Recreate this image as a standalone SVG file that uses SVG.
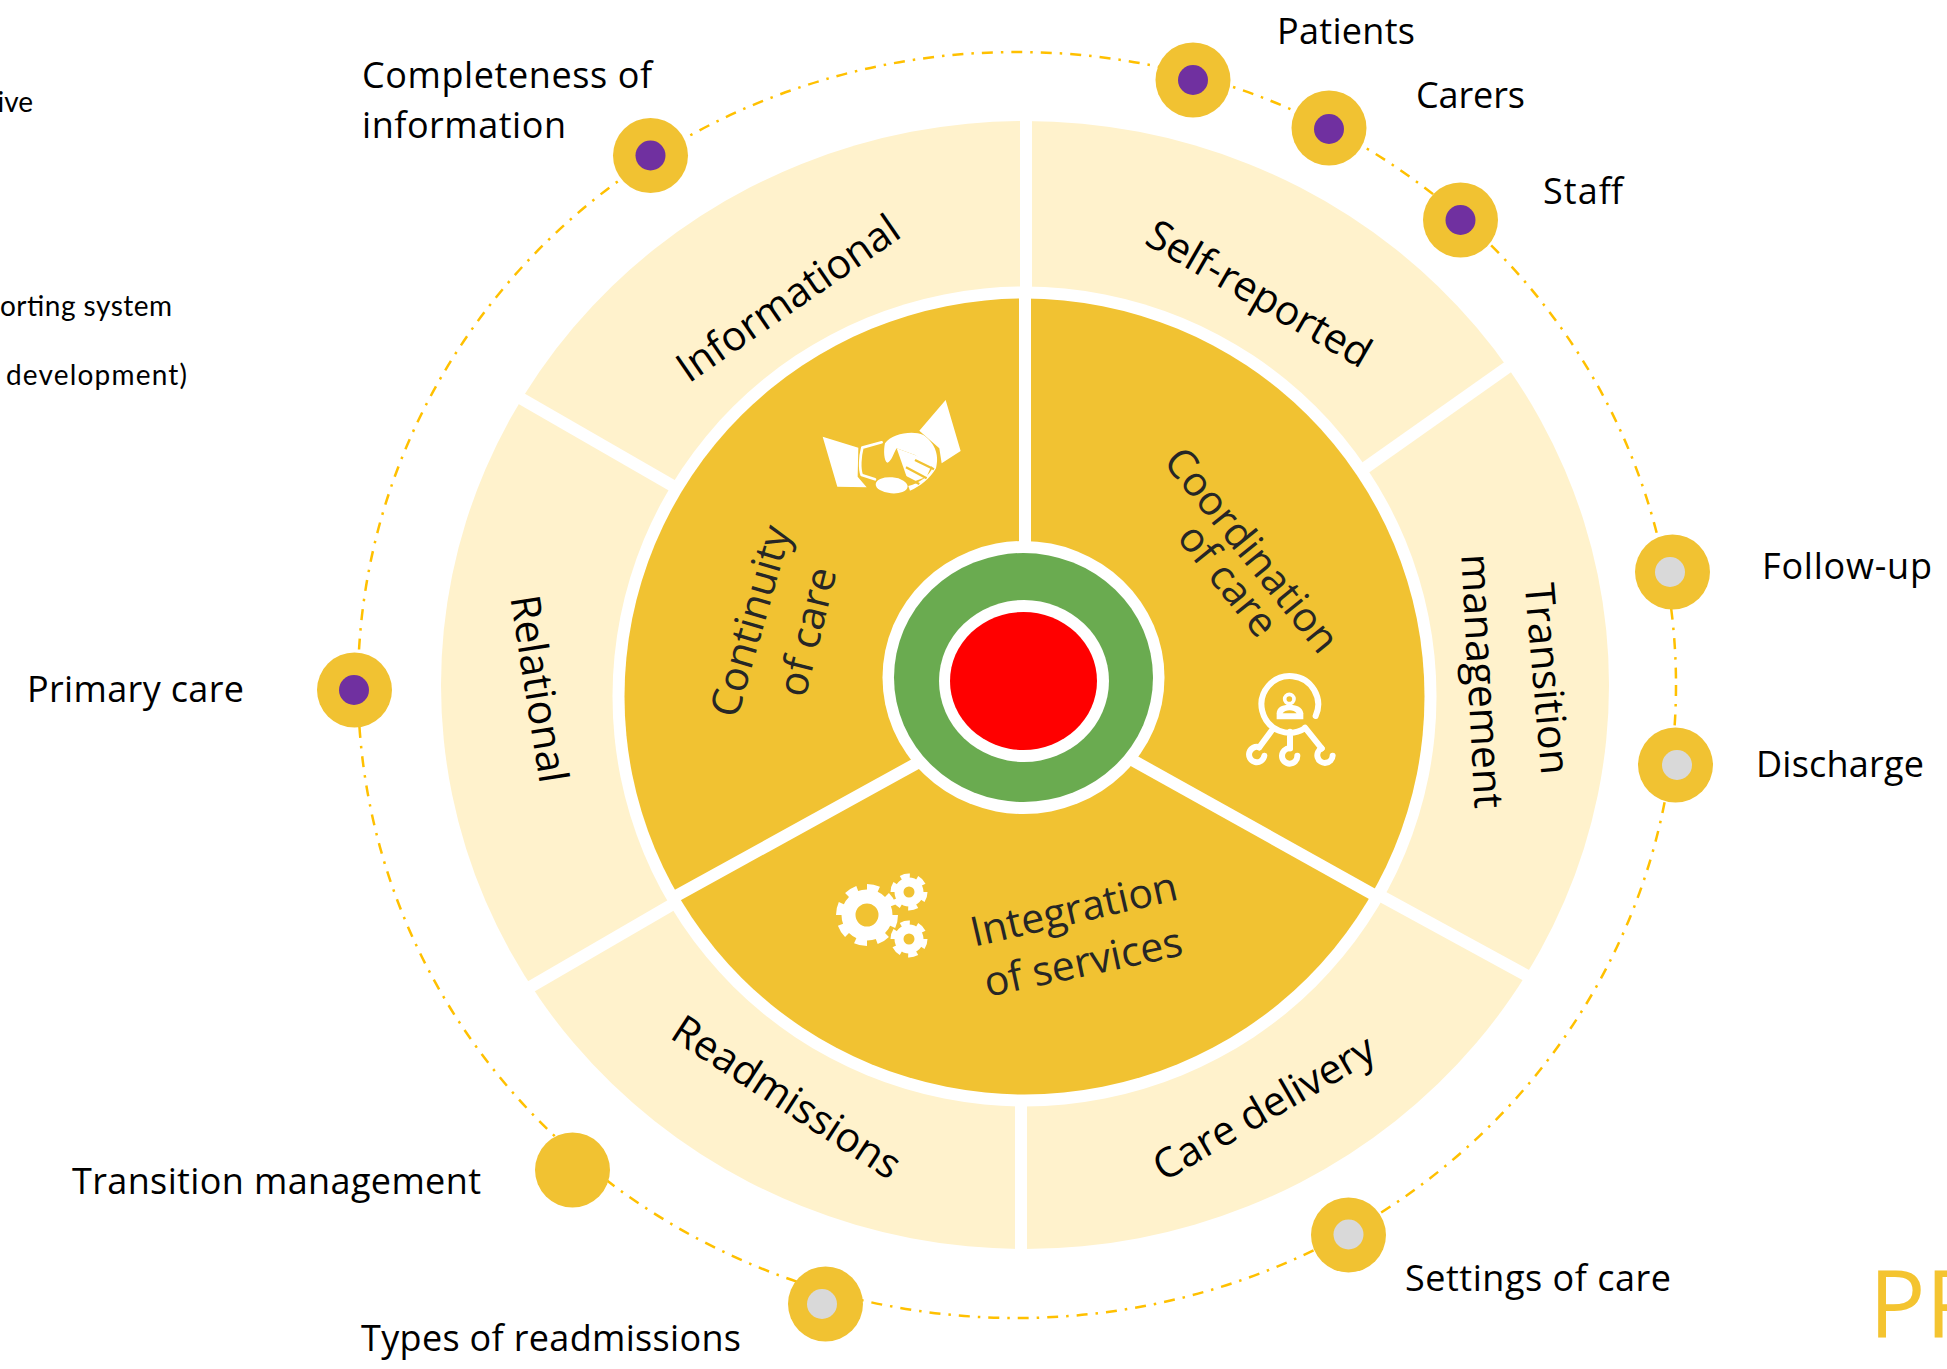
<svg xmlns="http://www.w3.org/2000/svg" width="1947" height="1369" viewBox="0 0 1947 1369">
<style>
text{font-family:"Open Sans","Noto Sans",sans-serif;fill:#000}
.lb{font-size:36px}
.seg{font-size:41px;text-anchor:middle}
.core{font-size:41px;text-anchor:middle;fill:#262626}
.cut{font-family:Lato,"Open Sans",sans-serif;font-size:28px;text-anchor:end}
.gold{fill:#F1C232}
.pur{fill:#7030A0}
.gry{fill:#D9D9D9}
.gap{stroke:#fff;fill:none;stroke-width:12}
.ic{stroke:#fff;fill:none;stroke-linecap:round;stroke-linejoin:round}
</style>
<rect width="1947" height="1369" fill="#fff"/>
<g id="wheel">
<ellipse cx="1025" cy="685" rx="584" ry="564" fill="#FFF2CC"/>
<line class="gap" x1="1026" y1="110" x2="1026" y2="300"/>
<line class="gap" x1="1021" y1="1260" x2="1021" y2="1090"/>
<line class="gap" x1="515" y1="395" x2="680" y2="490"/>
<line class="gap" x1="525" y1="990" x2="680" y2="900"/>
<line class="gap" x1="1515" y1="362" x2="1355" y2="475"/>
<line class="gap" x1="1535" y1="980" x2="1370" y2="890"/>
<ellipse cx="1024.5" cy="696.5" rx="412" ry="410" fill="#fff"/>
<ellipse cx="1024.5" cy="696.5" rx="400" ry="398" class="gold"/>
<line class="gap" x1="1025" y1="290" x2="1025" y2="560"/>
<line class="gap" x1="676" y1="896" x2="930" y2="756"/>
<line class="gap" x1="1376" y1="896" x2="1125" y2="756"/>
<ellipse cx="1023.5" cy="677.5" rx="141" ry="136.5" fill="#fff"/>
<ellipse cx="1023.5" cy="677.5" rx="129.5" ry="124.5" fill="#6AAB50"/>
<ellipse cx="1024" cy="681" rx="85" ry="81" fill="#fff"/>
<ellipse cx="1023.5" cy="681" rx="73.5" ry="69" fill="#F00"/>
</g>
<g id="connectors">
<ellipse cx="1017" cy="685" rx="659" ry="633" fill="none" stroke="#FFC000" stroke-width="2.5" stroke-dasharray="11 8 2.5 8"/>
</g>
<g id="seg-informational"><text class="seg" transform="translate(796 310) rotate(-34.5)">Informational</text></g>
<g id="seg-self-reported"><text class="seg" transform="translate(1252 306) rotate(30)">Self-reported</text></g>
<g id="seg-transition"><text class="seg" transform="translate(1533 680) rotate(85)">Transition</text><text class="seg" transform="translate(1468 682) rotate(87)">management</text></g>
<g id="seg-care-delivery"><text class="seg" transform="translate(1271 1120) rotate(-30)">Care delivery</text></g>
<g id="seg-readmissions"><text class="seg" transform="translate(779 1109) rotate(33)">Readmissions</text></g>
<g id="seg-relational"><text class="seg" transform="translate(525 691) rotate(81)">Relational</text></g>
<g id="core-continuity"><text class="core" transform="translate(764 625) rotate(-74)">Continuity</text><text class="core" transform="translate(821 635) rotate(-76)">of care</text></g>
<g id="core-coordination"><text class="core" transform="translate(1241 559) rotate(51)">Coordination</text><text class="core" transform="translate(1217 589) rotate(51)">of care</text></g>
<g id="core-integration"><text class="core" transform="translate(1077 923) rotate(-13)">Integration</text><text class="core" transform="translate(1086 976) rotate(-12)">of services</text></g>
<g id="icon-handshake" transform="translate(780 380) scale(.3333)">
<path fill="#fff" d="M128 170L235 203L233 290L260 322L172 320ZM497 60L542 213L485 250L478 205L418 152Z"/>
<path fill="#fff" d="M315 190C335 160 400 150 430 165C460 185 480 220 468 265C450 295 420 320 390 332L385 318C420 310 450 285 458 262L405 225L350 205C340 220 335 245 322 248C312 245 310 210 315 190Z"/>
<path fill="#fff" d="M350 205L405 225L458 250L440 290L400 305L380 290Z"/>
<path class="ic" stroke-width="8" d="M305 187L247 203C240 230 238 265 245 285L285 298"/>
<ellipse cx="335" cy="316" rx="48" ry="24" fill="#fff" transform="rotate(5 335 316)"/>
<path stroke="#F1C232" stroke-width="7" fill="none" d="M405 240L462 268M378 262L440 295M365 285L418 312"/>
</g>
<g id="icon-network" transform="translate(1220 660) scale(.3333)">
<path class="ic" stroke-width="18" d="M287 168A85 85 0 1 0 255 205M160 205L118 262M210 215V265M255 203L305 265"/>
<path class="ic" stroke-width="18" d="M133 287A23 23 0 1 1 118 262M232 287A23 23 0 1 1 210 265M338 287A23 23 0 1 1 305 265"/>
<circle cx="208" cy="117" r="14" class="ic" stroke-width="11"/>
<path fill="#fff" d="M170 178V160C170 140 190 134 208 134C226 134 248 140 250 160V178Z"/>
<path class="gold" d="M188 160C195 148 222 148 230 160Z"/>
</g>
<g id="icon-gears">
<circle cx="867" cy="915" r="26.5" fill="none" stroke="#fff" stroke-width="9" pathLength="16" stroke-dasharray="1.1 .9"/>
<circle cx="867" cy="915" r="18.5" fill="none" stroke="#fff" stroke-width="14"/>
<circle cx="909" cy="892" r="15" fill="none" stroke="#fff" stroke-width="7" pathLength="12" stroke-dasharray="1.1 .9"/>
<circle cx="909" cy="892" r="10" fill="none" stroke="#fff" stroke-width="9"/>
<circle cx="909" cy="939" r="15" fill="none" stroke="#fff" stroke-width="7" pathLength="12" stroke-dasharray="1.1 .9"/>
<circle cx="909" cy="939" r="10" fill="none" stroke="#fff" stroke-width="9"/>
</g>
<g id="node-completeness"><circle cx="650.5" cy="155.5" r="37.5" class="gold"/><circle cx="650.5" cy="155.5" r="15" class="pur"/><text class="lb" x="362" y="88" textLength="290">Completeness of</text><text class="lb" x="362" y="138" textLength="204">information</text></g>
<g id="node-patients"><circle cx="1193" cy="80" r="37.5" class="gold"/><circle cx="1193" cy="80" r="15" class="pur"/><text class="lb" x="1277" y="44" textLength="138">Patients</text></g>
<g id="node-carers"><circle cx="1329" cy="128" r="37.5" class="gold"/><circle cx="1329" cy="129" r="15" class="pur"/><text class="lb" x="1416" y="108" textLength="109">Carers</text></g>
<g id="node-staff"><circle cx="1460.5" cy="220" r="37.5" class="gold"/><circle cx="1460.5" cy="220" r="15" class="pur"/><text class="lb" x="1543" y="204" textLength="80">Staff</text></g>
<g id="node-follow-up"><circle cx="1672.5" cy="572" r="37.5" class="gold"/><circle cx="1670" cy="572" r="15" class="gry"/><text class="lb" x="1762" y="579" textLength="170">Follow-up</text></g>
<g id="node-discharge"><circle cx="1675.5" cy="765" r="37.5" class="gold"/><circle cx="1677" cy="765" r="15" class="gry"/><text class="lb" x="1756" y="777" textLength="168">Discharge</text></g>
<g id="node-settings"><circle cx="1348.5" cy="1235" r="37.5" class="gold"/><circle cx="1348.5" cy="1234.5" r="15" class="gry"/><text class="lb" x="1405" y="1291" textLength="266">Settings of care</text></g>
<g id="node-types"><circle cx="825.5" cy="1304" r="37.5" class="gold"/><circle cx="822" cy="1304" r="15" class="gry"/><text class="lb" x="361" y="1351" textLength="380">Types of readmissions</text></g>
<g id="node-transition"><circle cx="572.5" cy="1170" r="37.5" class="gold"/><text class="lb" x="72" y="1194" textLength="409">Transition management</text></g>
<g id="node-primary"><circle cx="354.5" cy="690" r="37.5" class="gold"/><circle cx="354" cy="690" r="15" class="pur"/><text class="lb" x="27" y="702" textLength="217">Primary care</text></g>
<g id="cut-text"><text class="cut" x="33" y="112">ive</text><text class="cut" x="172" y="316" textLength="172">orting system</text><text class="cut" x="187" y="385" textLength="181">development)</text>
<text x="1869" y="1337" font-size="94" style="fill:#F4C430">PP</text></g>
</svg>
